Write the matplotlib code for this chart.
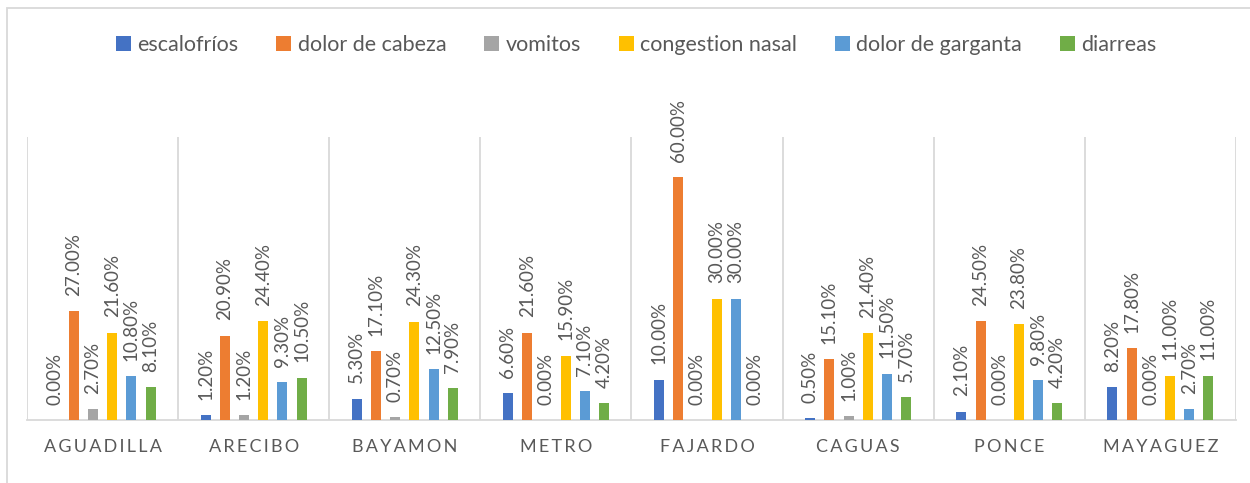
import matplotlib
matplotlib.use("Agg")
import matplotlib.pyplot as plt
from matplotlib.patches import Rectangle
import numpy as np

regions = ["AGUADILLA", "ARECIBO", "BAYAMON", "METRO", "FAJARDO", "CAGUAS", "PONCE", "MAYAGUEZ"]
symptoms = ["escalofríos", "dolor de cabeza", "vomitos", "congestion nasal", "dolor de garganta", "diarreas"]

escalofrios = [0.0, 1.2, 5.3, 6.6, 10.0, 0.5, 2.1, 8.2]
dolor_cabeza = [27.0, 20.9, 17.1, 21.6, 60.0, 15.1, 24.5, 17.8]
vomitos = [2.7, 1.2, 0.7, 0.0, 0.0, 1.0, 0.0, 0.0]
congestion = [21.6, 24.4, 24.3, 15.9, 30.0, 21.4, 23.8, 11.0]
garganta = [10.8, 9.3, 12.5, 7.1, 30.0, 11.5, 9.8, 2.7]
diarreas = [8.1, 10.5, 7.9, 4.2, 0.0, 5.7, 4.2, 11.0]

series = [escalofrios, dolor_cabeza, vomitos, congestion, garganta, diarreas]
colors = ["#4472C4", "#ED7D31", "#A5A5A5", "#FFC000", "#5B9BD5", "#70AD47"]

plt.rcParams['font.family'] = ['Lato', 'DejaVu Sans']
gray_txt = "#595959"
grid_col = "#D9D9D9"

fig = plt.figure(figsize=(12.5, 4.83), dpi=100)
# outer chart frame
fig.patches.append(Rectangle((7 / 1250, -0.05), 1.0, (483 - 8) / 483 + 0.05,
                             transform=fig.transFigure, fill=False,
                             edgecolor=grid_col, linewidth=1.3))

ax = fig.add_axes([27 / 1250, 63 / 483, (1236 - 27) / 1250, (420 - 137) / 483])
x = np.arange(len(regions))
step = 0.127
width = 0.066
for k, (vals, col, name) in enumerate(zip(series, colors, symptoms)):
    pos = x + (k - 2.5) * step
    ax.bar(pos, vals, width=width, color=col, label=name, zorder=3)
    for p, v in zip(pos, vals):
        ax.annotate(f"{v:.2f}%", (p, v), xytext=(0, 11), textcoords="offset points",
                    rotation=90, ha="center", va="bottom", fontsize=13.5, color=gray_txt)

ax.set_xlim(-0.5, len(regions) - 0.5)
ax.set_ylim(0, 70)
ax.vlines(np.arange(len(regions) + 1) - 0.5, 0, 70, color=grid_col, linewidth=1.3, zorder=1)
for s in ["top", "left", "right"]:
    ax.spines[s].set_visible(False)
ax.spines["bottom"].set_color(grid_col)
ax.spines["bottom"].set_linewidth(1.3)
ax.set_yticks([])
ax.set_xticks(x)
ax.set_xticklabels(["\u2009".join(r) for r in regions], fontsize=13, color=gray_txt)
ax.tick_params(axis="x", length=0, pad=14)

handles, labels = ax.get_legend_handles_labels()
fig.legend(handles, labels, loc="center", bbox_to_anchor=(0.509, 0.907), ncol=6,
           frameon=False, fontsize=15.5, handlelength=0.7, handleheight=0.7,
           handletextpad=0.3, columnspacing=1.75, labelcolor=gray_txt)

plt.savefig("out.png", dpi=100)
